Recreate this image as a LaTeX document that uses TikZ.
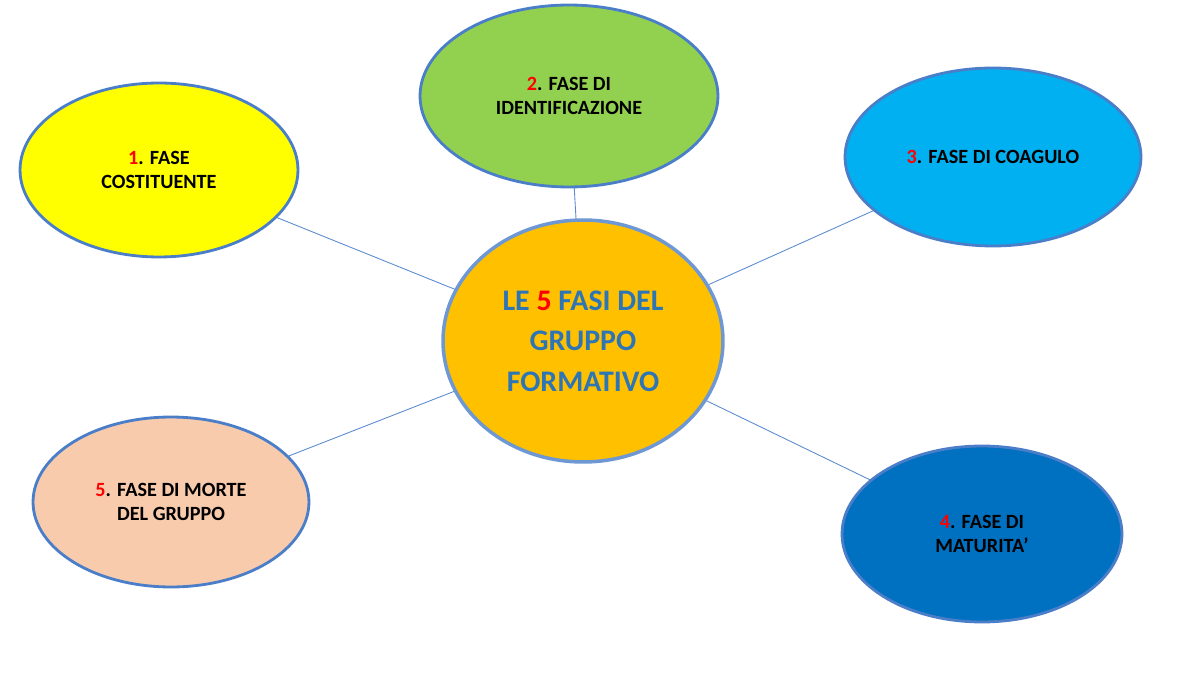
\documentclass[tikz,border=0pt]{standalone}
\usepackage{fontspec}
\setmainfont{Carlito}
\usetikzlibrary{shapes.geometric}

\definecolor{rimblue}{HTML}{4A7EC8}
\definecolor{linkblue}{HTML}{5B8BD0}
\definecolor{numred}{HTML}{FF0000}
\definecolor{phaseone}{HTML}{FFFF00}
\definecolor{phasetwo}{HTML}{92D050}
\definecolor{phasethree}{HTML}{00B0F0}
\definecolor{phasefour}{HTML}{0070C0}
\definecolor{phasefive}{HTML}{F8CBAD}
\definecolor{hubfill}{HTML}{FFC000}
\definecolor{hubtext}{HTML}{2E75B6}

\tikzset{
  phase/.style={ellipse, draw=rimblue, line width=1.6pt, inner sep=0pt,
    align=center, font=\bfseries\fontsize{11.5}{14}\selectfont},
  link/.style={draw=linkblue, line width=0.5pt}
}

\begin{document}
\begin{tikzpicture}[x=0.02cm,y=-0.02cm]
    \useasboundingbox (0,0) rectangle (1200,675);

    % positions of the five phases and the hub
    \coordinate (p1) at (159,170);
    \coordinate (p2) at (569,96);
    \coordinate (p3) at (993,157);
    \coordinate (p4) at (982,534);
    \coordinate (p5) at (171,502);
    \coordinate (hc) at (583,341);

    % connectors behind the ellipses
    \foreach \p in {p1,p2,p3,p4,p5}
        \draw [link] (hc) -- (\p);

    \node [phase, fill=phaseone, minimum width=5.56cm, minimum height=3.48cm] (fase1) at (p1)
        {{\color{numred}1}. FASE\\COSTITUENTE};
    \node [phase, fill=phasetwo, minimum width=5.96cm, minimum height=3.64cm] (fase2) at (p2)
        {{\color{numred}2}. FASE DI\\IDENTIFICAZIONE};
    \node [phase, fill=phasethree, minimum width=5.92cm, minimum height=3.56cm] (fase3) at (p3)
        {{\color{numred}3}. FASE DI COAGULO};
    \node [phase, fill=phasefour, minimum width=5.6cm, minimum height=3.52cm] (fase4) at (p4)
        {{\color{numred}4}. FASE DI\\MATURITA’};
    \node [phase, fill=phasefive, minimum width=5.52cm, minimum height=3.4cm] (fase5) at (p5)
        {{\color{numred}5}. FASE DI MORTE\\DEL GRUPPO};

    % central hub
    \node [phase, fill=hubfill, draw=rimblue!80!white, line width=2pt,
        minimum width=5.6cm, minimum height=4.84cm, text=hubtext,
        font=\bfseries\fontsize{17}{23}\selectfont] (hub) at (hc)
        {LE {\color{numred}5} FASI DEL\\GRUPPO\\FORMATIVO};
\end{tikzpicture}
\end{document}
